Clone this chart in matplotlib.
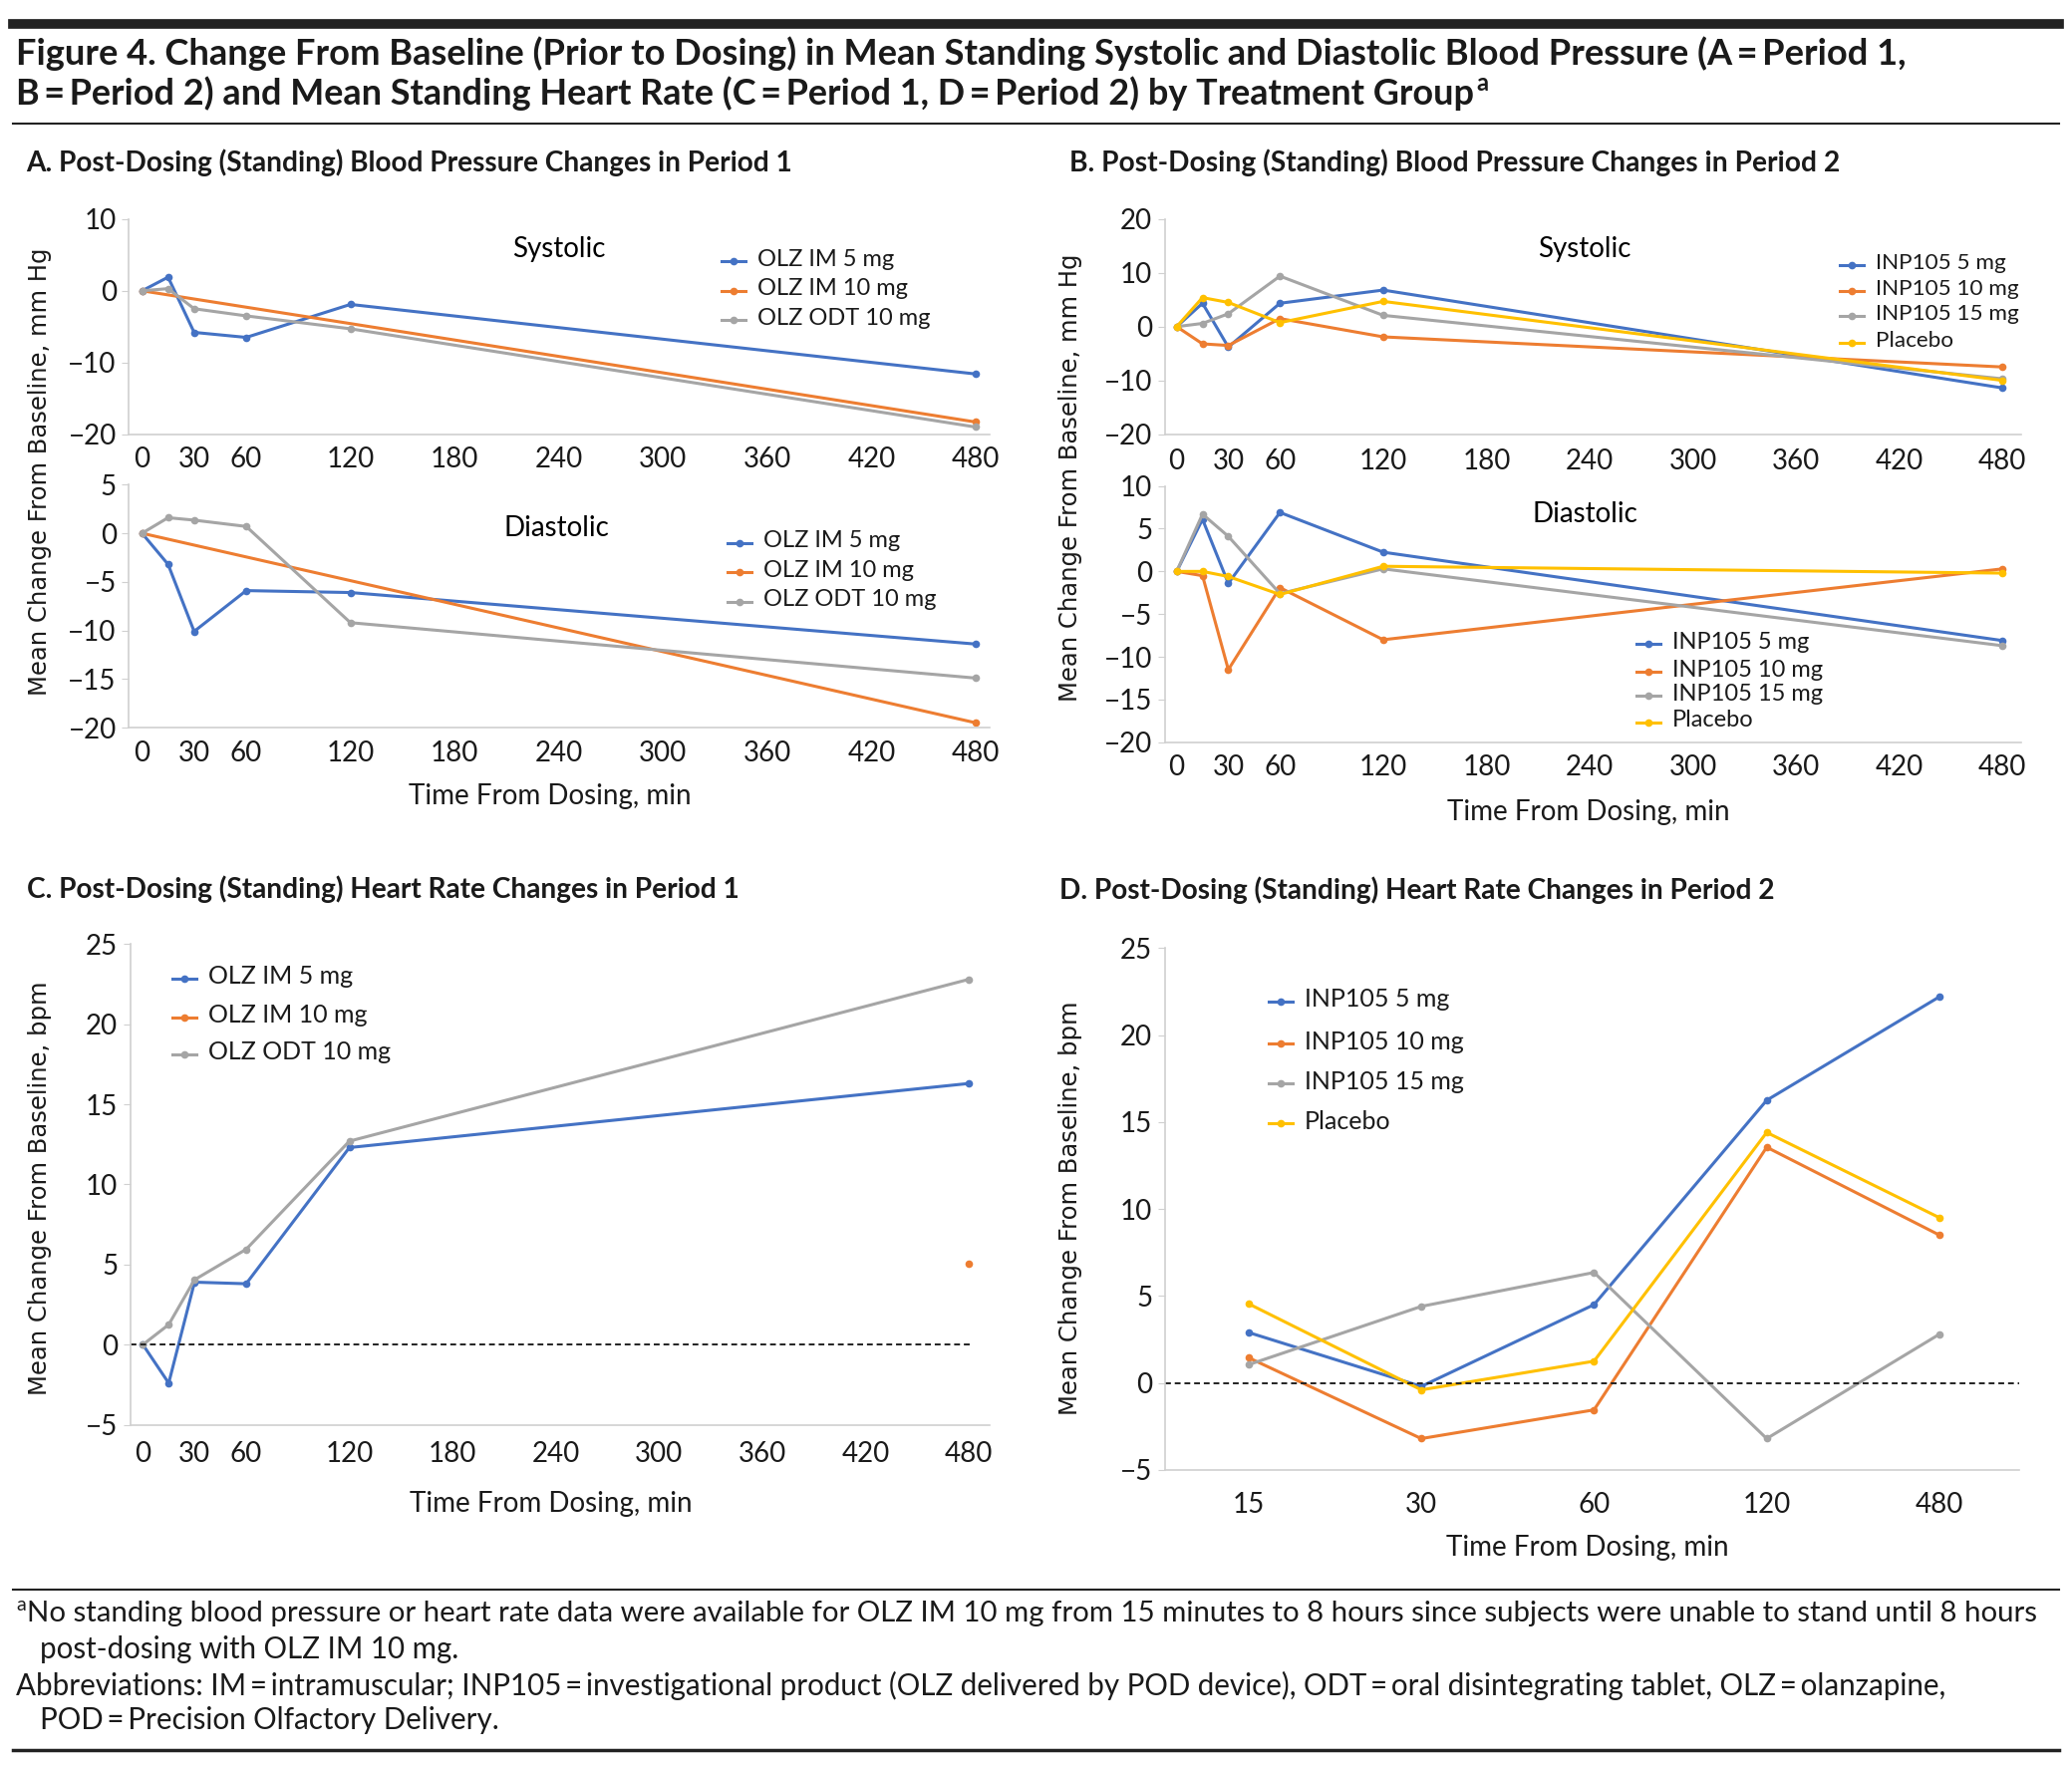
import matplotlib
matplotlib.use("Agg")
import matplotlib.pyplot as plt
from matplotlib.lines import Line2D

# layout grid of the reference (display units), converted to figure fractions
W, H = 1560, 1330


def fx(x):
    return x / W


def fy(y):
    return 1 - y / H


def box(x0, y0, x1, y1):
    return [fx(x0), fy(y1), fx(x1) - fx(x0), fy(y0) - fy(y1)]


# ---- data ----
times = [0, 15, 30, 60, 120, 480]
im10_times = [0, 480]

a_sys_im5 = [0, 1.9, -5.8, -6.5, -1.9, -11.6]
a_sys_im10 = [0, -18.3]
a_sys_odt10 = [0, 0.3, -2.5, -3.5, -5.3, -19.0]

a_dia_im5 = [0, -3.2, -10.1, -5.9, -6.1, -11.4]
a_dia_im10 = [0, -19.5]
a_dia_odt10 = [0, 1.6, 1.35, 0.7, -9.2, -14.9]

b_sys_5 = [0, 4.35, -3.8, 4.35, 6.8, -11.4]
b_sys_10 = [0, -3.2, -3.5, 1.5, -1.9, -7.5]
b_sys_15 = [0, 0.6, 2.4, 9.4, 2.1, -9.7]
b_sys_pbo = [0, 5.4, 4.5, 0.75, 4.7, -10.0]

b_dia_5 = [0, 6.1, -1.4, 6.9, 2.25, -8.1]
b_dia_10 = [0, -0.5, -11.5, -1.9, -8.0, 0.3]
b_dia_15 = [0, 6.7, 4.1, -2.6, 0.3, -8.7]
b_dia_pbo = [0, 0.0, -0.6, -2.7, 0.6, -0.2]

c_im5 = [0, -2.4, 3.9, 3.8, 12.3, 16.3]
c_im10_times = [480]
c_im10 = [5.05]
c_odt10 = [0, 1.25, 4.05, 5.95, 12.7, 22.8]

d_labels = ["15", "30", "60", "120", "480"]
d_5 = [2.9, -0.2, 4.5, 16.25, 22.2]
d_10 = [1.45, -3.2, -1.55, 13.55, 8.5]
d_15 = [1.05, 4.4, 6.35, -3.2, 2.8]
d_pbo = [4.55, -0.4, 1.25, 14.4, 9.5]

olz_names = ["OLZ IM 5 mg", "OLZ IM 10 mg", "OLZ ODT 10 mg"]
inp_names = ["INP105 5 mg", "INP105 10 mg", "INP105 15 mg", "Placebo"]
x_ticks = [0, 30, 60, 120, 180, 240, 300, 360, 420, 480]

BLUE, ORANGE, GRAY, YELLOW = "#4472C4", "#ED7D31", "#A5A5A5", "#FFC000"
SPINE = "#D0D0D0"
INK = "#1a1a1a"

COND = ["Lato", "DejaVu Sans"]
WIDE = ["DejaVu Sans"]
DY = -2.5  # Lato sits a little low with va="center"

fig = plt.figure(figsize=(20.79, 17.72), dpi=100)
renderer = fig.canvas.get_renderer()


def fit_text(x0, y, x1, s, size, **kw):
    # put a line of text at (x0, y) and scale its size so it ends near x1
    t = fig.text(fx(x0), fy(y + DY), s, fontsize=size, ha="left", va="center", color=INK, **kw)
    w = t.get_window_extent(renderer).width / fig.bbox.width
    t.set_fontsize(size * (fx(x1) - fx(x0)) / w)
    return t


def style_axes(ax, ylim, yticks, pad):
    for s in ["top", "right"]:
        ax.spines[s].set_visible(False)
    for s in ["left", "bottom"]:
        ax.spines[s].set_color(SPINE)
        ax.spines[s].set_linewidth(1.2)
    ax.set_ylim(*ylim)
    ax.set_yticks(yticks)
    ax.set_yticklabels([("\u2212%d" % -v) if v < 0 else "%d" % v for v in yticks])
    ax.tick_params(axis="y", length=5, color=SPINE, pad=4, labelsize=20)
    ax.tick_params(axis="x", length=0, pad=pad, labelsize=20)
    for lab in ax.get_xticklabels() + ax.get_yticklabels():
        lab.set_family(COND)
        lab.set_color(INK)


def time_axes(ax, xlim, ylim, yticks, pad):
    ax.set_xlim(*xlim)
    ax.set_xticks(x_ticks)
    style_axes(ax, ylim, yticks, pad)


def series(ax, x, y, color):
    ax.plot(x, y, color=color, lw=2.2, marker="o", ms=5.5, mew=0)


def legend(x0, ys, names, colors, size=17):
    for y, name, c in zip(ys, names, colors):
        fig.add_artist(Line2D([fx(x0), fx(x0 + 18)], [fy(y), fy(y)], transform=fig.transFigure,
                              color=c, lw=2.2))
        fig.add_artist(Line2D([fx(x0 + 9)], [fy(y)], transform=fig.transFigure,
                              color=c, marker="o", ms=5.5, mew=0))
        fig.text(fx(x0 + 27), fy(y + DY * 0.6), name, family=COND, fontsize=size, va="center",
                 ha="left", color=INK)


# ---- Panel A ----
ax = fig.add_axes(box(97, 165, 745, 327))
series(ax, times, a_sys_im5, BLUE)
series(ax, im10_times, a_sys_im10, ORANGE)
series(ax, times, a_sys_odt10, GRAY)
time_axes(ax, (-7.6, 488), (-20, 10), [-20, -10, 0, 10], 9)
ax.text(0.5, 0.86, "Systolic", transform=ax.transAxes, ha="center", va="center",
        family=COND, fontsize=20)
legend(543, [197, 219, 241], olz_names, [BLUE, ORANGE, GRAY])

ax = fig.add_axes(box(97, 365, 745, 548))
series(ax, times, a_dia_im5, BLUE)
series(ax, im10_times, a_dia_im10, ORANGE)
series(ax, times, a_dia_odt10, GRAY)
time_axes(ax, (-7.6, 488), (-20, 5), [-20, -15, -10, -5, 0, 5], 9)
ax.text(0.497, 0.82, "Diastolic", transform=ax.transAxes, ha="center", va="center",
        family=COND, fontsize=20)
legend(548, [409, 431, 453], olz_names, [BLUE, ORANGE, GRAY])

# ---- Panel B ----
ax = fig.add_axes(box(877, 165, 1522, 327))
series(ax, times, b_sys_5, BLUE)
series(ax, times, b_sys_10, ORANGE)
series(ax, times, b_sys_15, GRAY)
series(ax, times, b_sys_pbo, YELLOW)
time_axes(ax, (-6.9, 491), (-20, 20), [-20, -10, 0, 10, 20], 10)
ax.text(0.49, 0.86, "Systolic", transform=ax.transAxes, ha="center", va="center",
        family=COND, fontsize=20)
legend(1385, [200, 219, 238, 258], inp_names, [BLUE, ORANGE, GRAY, YELLOW], size=16.2)

ax = fig.add_axes(box(877, 366, 1522, 559))
series(ax, times, b_dia_5, BLUE)
series(ax, times, b_dia_10, ORANGE)
series(ax, times, b_dia_15, GRAY)
series(ax, times, b_dia_pbo, YELLOW)
time_axes(ax, (-6.9, 491), (-20, 10), [-20, -15, -10, -5, 0, 5, 10], 9)
ax.text(0.49, 0.89, "Diastolic", transform=ax.transAxes, ha="center", va="center",
        family=COND, fontsize=20)
legend(1232, [485, 506, 524, 544], inp_names, [BLUE, ORANGE, GRAY, YELLOW])

# ---- Panel C ----
ax = fig.add_axes(box(98, 711, 745, 1073))
series(ax, times, c_im5, BLUE)
series(ax, c_im10_times, c_im10, ORANGE)
series(ax, times, c_odt10, GRAY)
ax.axhline(0, color="#222222", lw=1.4, ls=(0, (3, 2)), xmax=0.98)
time_axes(ax, (-7.4, 492), (-5, 25), [-5, 0, 5, 10, 15, 20, 25], 12)
legend(130, [737, 766, 794], olz_names, [BLUE, ORANGE, GRAY], size=18)

# ---- Panel D ----
ax = fig.add_axes(box(877, 714, 1520, 1107))
dx = list(range(len(d_labels)))
series(ax, dx, d_5, BLUE)
series(ax, dx, d_10, ORANGE)
series(ax, dx, d_15, GRAY)
series(ax, dx, d_pbo, YELLOW)
ax.axhline(0, color="#222222", lw=1.4, ls=(0, (3, 2)))
ax.set_xlim(-0.485, 4.46)
ax.set_xticks(dx)
ax.set_xticklabels(d_labels)
style_axes(ax, (-5, 25), [-5, 0, 5, 10, 15, 20, 25], 16)
legend(955, [754, 786, 816, 846], inp_names, [BLUE, ORANGE, GRAY, YELLOW], size=18)

# ---- axis titles ----
ylab_kw = dict(family=WIDE, fontsize=17.5, rotation=90, ha="center", va="center", color=INK)
fig.text(fx(30), fy(355), "Mean Change From Baseline, mm Hg", **ylab_kw)
fig.text(fx(806), fy(360), "Mean Change From Baseline, mm Hg", **ylab_kw)
fig.text(fx(30), fy(895), "Mean Change From Baseline, bpm", **ylab_kw)
fig.text(fx(806), fy(910), "Mean Change From Baseline, bpm", **ylab_kw)

xlab_kw = dict(family=COND, fontsize=20, ha="center", va="center", color=INK)
fig.text(fx(414), fy(602 + DY), "Time From Dosing, min", **xlab_kw)
fig.text(fx(1196), fy(614 + DY), "Time From Dosing, min", **xlab_kw)
fig.text(fx(415), fy(1135 + DY), "Time From Dosing, min", **xlab_kw)
fig.text(fx(1195), fy(1168 + DY), "Time From Dosing, min", **xlab_kw)

# ---- panel titles ----
pt_kw = dict(family=COND, fontweight="bold")
fit_text(20, 125, 598, "A. Post-Dosing (Standing) Blood Pressure Changes in Period 1", 20, **pt_kw)
fit_text(805, 125, 1385, "B. Post-Dosing (Standing) Blood Pressure Changes in Period 2", 20, **pt_kw)
fit_text(20, 672, 557, "C. Post-Dosing (Standing) Heart Rate Changes in Period 1", 20, **pt_kw)
fit_text(798, 673, 1338, "D. Post-Dosing (Standing) Heart Rate Changes in Period 2", 20, **pt_kw)


# ---- figure title and rules ----
def rule(y, lw):
    fig.add_artist(Line2D([fx(10), fx(1550)], [fy(y), fy(y)], transform=fig.transFigure,
                          color="#222222", lw=lw))


rule(18, 7)
rule(93, 1.5)
rule(1197, 1.5)
rule(1318, 2.5)

fit_text(12, 43, 1435, "Figure 4. Change From Baseline (Prior to Dosing) in Mean Standing Systolic and "
         "Diastolic Blood Pressure (A\u2009=\u2009Period 1,", 25, family=COND, fontweight="bold")
t2 = fit_text(12, 73, 1110, "B\u2009=\u2009Period 2) and Mean Standing Heart Rate (C\u2009=\u2009Period 1, "
              "D\u2009=\u2009Period 2) by Treatment Group", 25, family=COND, fontweight="bold")
bb = t2.get_window_extent(renderer).transformed(fig.transFigure.inverted())
fig.text(bb.x1 + 0.001, fy(63), "a", family=COND, fontsize=17, fontweight="bold",
         ha="left", va="center", color=INK)

fig.text(fx(12), fy(1209), "a", family=COND, fontsize=14, ha="left", va="center", color=INK)
fit_text(20, 1218, 1537, "No standing blood pressure or heart rate data were available for OLZ IM 10 mg "
         "from 15 minutes to 8 hours since subjects were unable to stand until 8 hours", 20, family=COND)
fn2 = fig.text(fx(30), fy(1245 + DY), "post-dosing with OLZ IM 10 mg.", family=COND, ha="left",
               va="center", color=INK)
fn3 = fit_text(12, 1272, 1470, "Abbreviations: IM\u2009=\u2009intramuscular; INP105\u2009=\u2009investigational "
               "product (OLZ delivered by POD device), ODT\u2009=\u2009oral disintegrating tablet, "
               "OLZ\u2009=\u2009olanzapine,", 20, family=COND)
fn2.set_fontsize(fn3.get_fontsize())
fig.text(fx(30), fy(1298 + DY), "POD\u2009=\u2009Precision Olfactory Delivery.", family=COND,
         fontsize=fn3.get_fontsize(), ha="left", va="center", color=INK)

fig.savefig("out.png", dpi=100)
